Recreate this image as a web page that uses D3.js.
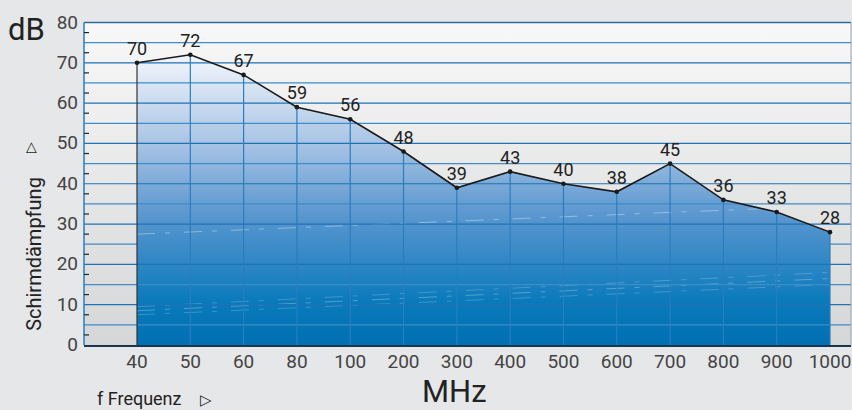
<!DOCTYPE html>
<html>
<head>
<meta charset="utf-8">
<script src="https://cdn.jsdelivr.net/npm/d3@7"></script>
<style>
  html, body { margin: 0; padding: 0; background: #e6e7e8; }
  svg { display: block; font-family: Roboto, "Noto Sans", sans-serif; }
</style>
</head>
<body>
<svg id="chart" width="852" height="410"></svg>
<script>
// Daten
const frequencies = ['40', '50', '60', '80', '100', '200', '300', '400', '500', '600', '700', '800', '900', '1000'];
const attenuation = [70, 72, 67, 59, 56, 48, 39, 43, 40, 38, 45, 36, 33, 28];
const yTicks = [0, 10, 20, 30, 40, 50, 60, 70, 80];
const gridValues = d3.range(5, 80, 5);
const minorTicks = d3.range(2.5, 80, 5);

const svg = d3.select('#chart');
const plot = { left: 84, right: 851, top: 22.5, bottom: 345 };

const x = d3.scalePoint().domain(frequencies).range([137, 830]);
const y = d3.scaleLinear().domain([0, 80]).range([plot.bottom, plot.top]);

const data = frequencies.map((f, i) => ({ f, v: attenuation[i] }));

const defs = svg.append('defs');

const bg = defs.append('linearGradient').attr('id', 'bg')
  .attr('x1', 0).attr('y1', 0).attr('x2', 0).attr('y2', 1);
bg.append('stop').attr('offset', '0%').attr('stop-color', '#f8f8f8');
bg.append('stop').attr('offset', '100%').attr('stop-color', '#d5d6d7');

const fill = defs.append('linearGradient').attr('id', 'fill')
  .attr('gradientUnits', 'userSpaceOnUse')
  .attr('x1', 0).attr('y1', y(72)).attr('x2', 0).attr('y2', y(0));
[['0%', '#f3f6fb'], ['30%', '#a9c5e5'], ['55%', '#5b97cf'], ['75%', '#2684c3'], ['85%', '#0a7abb'], ['100%', '#0070b2']]
  .forEach(([o, c]) => fill.append('stop').attr('offset', o).attr('stop-color', c));

const area = d3.area()
  .x(d => x(d.f))
  .y0(y(0))
  .y1(d => y(d.v));

defs.append('clipPath').attr('id', 'areaClip')
  .append('path').attr('d', area(data));

// Hintergrund
svg.append('rect')
  .attr('x', plot.left).attr('y', plot.top)
  .attr('width', plot.right - plot.left).attr('height', plot.bottom - plot.top)
  .attr('fill', 'url(#bg)');

svg.append('path').attr('d', area(data)).attr('fill', 'url(#fill)');

// Lichtreflexe in der Fläche
const streaks = svg.append('g').attr('clip-path', 'url(#areaClip)')
  .attr('stroke', '#ffffff').attr('fill', 'none');
[[27.5, 34.5, 0.45], [9.5, 18, 0.25], [8.5, 16.5, 0.35], [7.5, 15, 0.25]].forEach(([a, b, o]) => {
  streaks.append('line')
    .attr('x1', x('40')).attr('y1', y(a))
    .attr('x2', x('1000')).attr('y2', y(b))
    .attr('stroke-opacity', o)
    .attr('stroke-width', 0.8)
    .attr('stroke-dasharray', '18 10 5 14');
});

// Gitterlinien
svg.append('g').selectAll('line').data(gridValues).join('line')
  .attr('x1', plot.left).attr('x2', plot.right)
  .attr('y1', d => y(d)).attr('y2', d => y(d))
  .attr('stroke', d => d % 10 === 0 ? '#1f72b4' : '#3f8cc8')
  .attr('stroke-width', 1.2);

svg.append('g').selectAll('line').data(data).join('line')
  .attr('x1', d => x(d.f)).attr('x2', d => x(d.f))
  .attr('y1', d => y(d.v)).attr('y2', y(0))
  .attr('stroke', (d, i) => i === 0 ? '#333333' : '#2a7dbf')
  .attr('stroke-width', 1.2);

// Rahmen
svg.append('line').attr('x1', plot.left).attr('x2', plot.right)
  .attr('y1', plot.top).attr('y2', plot.top).attr('stroke', '#2a6a9c').attr('stroke-width', 1.5);
svg.append('line').attr('x1', plot.left).attr('x2', plot.left)
  .attr('y1', plot.top).attr('y2', plot.bottom).attr('stroke', '#2a7dbf').attr('stroke-width', 1.5);
svg.append('line').attr('x1', plot.right).attr('x2', plot.right)
  .attr('y1', plot.top).attr('y2', plot.bottom).attr('stroke', '#9aa6b0').attr('stroke-width', 1);
svg.append('line').attr('x1', plot.left).attr('x2', plot.right)
  .attr('y1', plot.bottom + 1).attr('y2', plot.bottom + 1).attr('stroke', '#1b3550').attr('stroke-width', 2);

svg.append('g').selectAll('line').data(minorTicks).join('line')
  .attr('x1', plot.left).attr('x2', plot.left + 5)
  .attr('y1', d => y(d)).attr('y2', d => y(d))
  .attr('stroke', '#222').attr('stroke-width', 1.2);

// Linie und Punkte
svg.append('path')
  .attr('d', d3.line().x(d => x(d.f)).y(d => y(d.v))(data))
  .attr('fill', 'none').attr('stroke', '#1a1a1a').attr('stroke-width', 1.6);

svg.append('g').selectAll('circle').data(data).join('circle')
  .attr('cx', d => x(d.f)).attr('cy', d => y(d.v)).attr('r', 2.3)
  .attr('fill', '#1a1a1a');

svg.append('g').selectAll('text').data(data).join('text')
  .attr('x', d => x(d.f)).attr('y', d => y(d.v) - 8)
  .attr('text-anchor', 'middle')
  .attr('font-size', 18).attr('fill', '#222')
  .text(d => d.v);

// Achsenbeschriftung
svg.append('g').selectAll('text').data(yTicks).join('text')
  .attr('x', 78).attr('y', d => y(d) + 6)
  .attr('text-anchor', 'end')
  .attr('font-size', 19).attr('fill', '#444')
  .text(d => d);

svg.append('g').selectAll('text').data(frequencies).join('text')
  .attr('x', d => x(d)).attr('y', 368)
  .attr('text-anchor', 'middle')
  .attr('font-size', 19).attr('fill', '#444')
  .text(d => d);

svg.append('text').attr('x', 8).attr('y', 40)
  .attr('font-size', 31).attr('fill', '#222').text('dB');

svg.append('text')
  .attr('transform', 'translate(41,254) rotate(-90)')
  .attr('text-anchor', 'middle')
  .attr('font-size', 20).attr('fill', '#222')
  .text('Schirmdämpfung');

svg.append('text')
  .attr('transform', 'translate(35,147) rotate(-90)')
  .attr('text-anchor', 'middle')
  .attr('font-size', 14).attr('fill', '#222')
  .text('▷');

svg.append('text').attr('x', 97).attr('y', 405)
  .attr('font-size', 18).attr('fill', '#222')
  .text('f Frequenz');

svg.append('text').attr('x', 200).attr('y', 405)
  .attr('font-size', 15).attr('fill', '#222')
  .text('▷');

svg.append('text').attr('x', 422).attr('y', 402)
  .attr('font-size', 31).attr('fill', '#222')
  .text('MHz');
</script>
</body>
</html>
